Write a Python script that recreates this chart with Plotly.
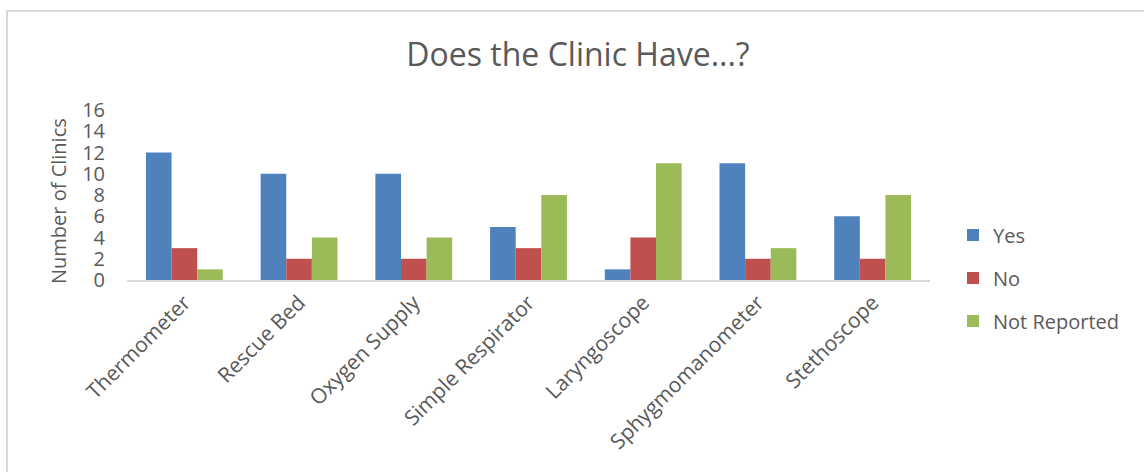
import plotly.graph_objects as go

categories = ["Thermometer", "Rescue Bed", "Oxygen Supply", "Simple Respirator",
              "Laryngoscope", "Sphygmomanometer", "Stethoscope"]
yes_vals = [12, 10, 10, 5, 1, 11, 6]
no_vals = [3, 2, 2, 3, 4, 2, 2]
not_reported_vals = [1, 4, 4, 8, 11, 3, 8]
series_names = ["Yes", "No", "Not Reported"]
series_colors = ["#4F81BD", "#C0504D", "#9BBB59"]
y_ticks = [0, 2, 4, 6, 8, 10, 12, 14, 16]

FONT = "Open Sans"
GRAY = "#595959"

fig = go.Figure()
for name, vals, color in zip(series_names, [yes_vals, no_vals, not_reported_vals], series_colors):
    fig.add_trace(go.Bar(x=categories, y=vals, name=name, marker_color=color,
                         marker_line_width=0, legendgroup=name))

W, H = 1144, 472
L, R, T, B = 127, 214, 110, 192
pw = W - L - R
ph = H - T - B

def px_x(x):
    return (x - L) / pw

def px_y(y):
    return (H - B - y) / ph

fig.update_layout(
    width=W, height=H,
    margin=dict(l=L, r=R, t=T, b=B),
    paper_bgcolor="white", plot_bgcolor="white",
    font=dict(family=FONT, color=GRAY, size=20),
    title=dict(text="Does the Clinic Have...?", x=578 / W, xanchor="center",
               y=1 - 55 / H, yanchor="middle", xref="container", yref="container",
               font=dict(size=32, color=GRAY, family=FONT)),
    barmode="group", bargap=0.33, bargroupgap=0,
    legend=dict(x=px_x(953), xanchor="left", y=px_y(278), yanchor="middle",
                font=dict(size=20, color=GRAY), tracegroupgap=14,
                bgcolor="rgba(0,0,0,0)"),
    showlegend=True,
    xaxis=dict(showline=True, linecolor="#D9D9D9", linewidth=2, ticks="",
               tickangle=-45, tickfont=dict(size=21, color=GRAY),
               showgrid=False, zeroline=False, automargin=False),
    yaxis=dict(range=[0, 16], tickvals=y_ticks, showline=False, showgrid=False,
               zeroline=False, ticks="", tickfont=dict(size=20, color=GRAY),
               ticklabelstandoff=21, automargin=False),
    annotations=[dict(text="Number of Clinics", textangle=-90, xref="paper", yref="paper",
                      x=px_x(58), y=px_y(201), xanchor="center", yanchor="middle",
                      showarrow=False, font=dict(size=20, color=GRAY, family=FONT))],
    shapes=[dict(type="path", xref="paper", yref="paper",
                 path=f"M {px_x(7)} {px_y(480)} L {px_x(7)} {px_y(11)} L {px_x(1150)} {px_y(11)}",
                 line=dict(color="#D9D9D9", width=2))],
)

fig.write_html("out.html")
